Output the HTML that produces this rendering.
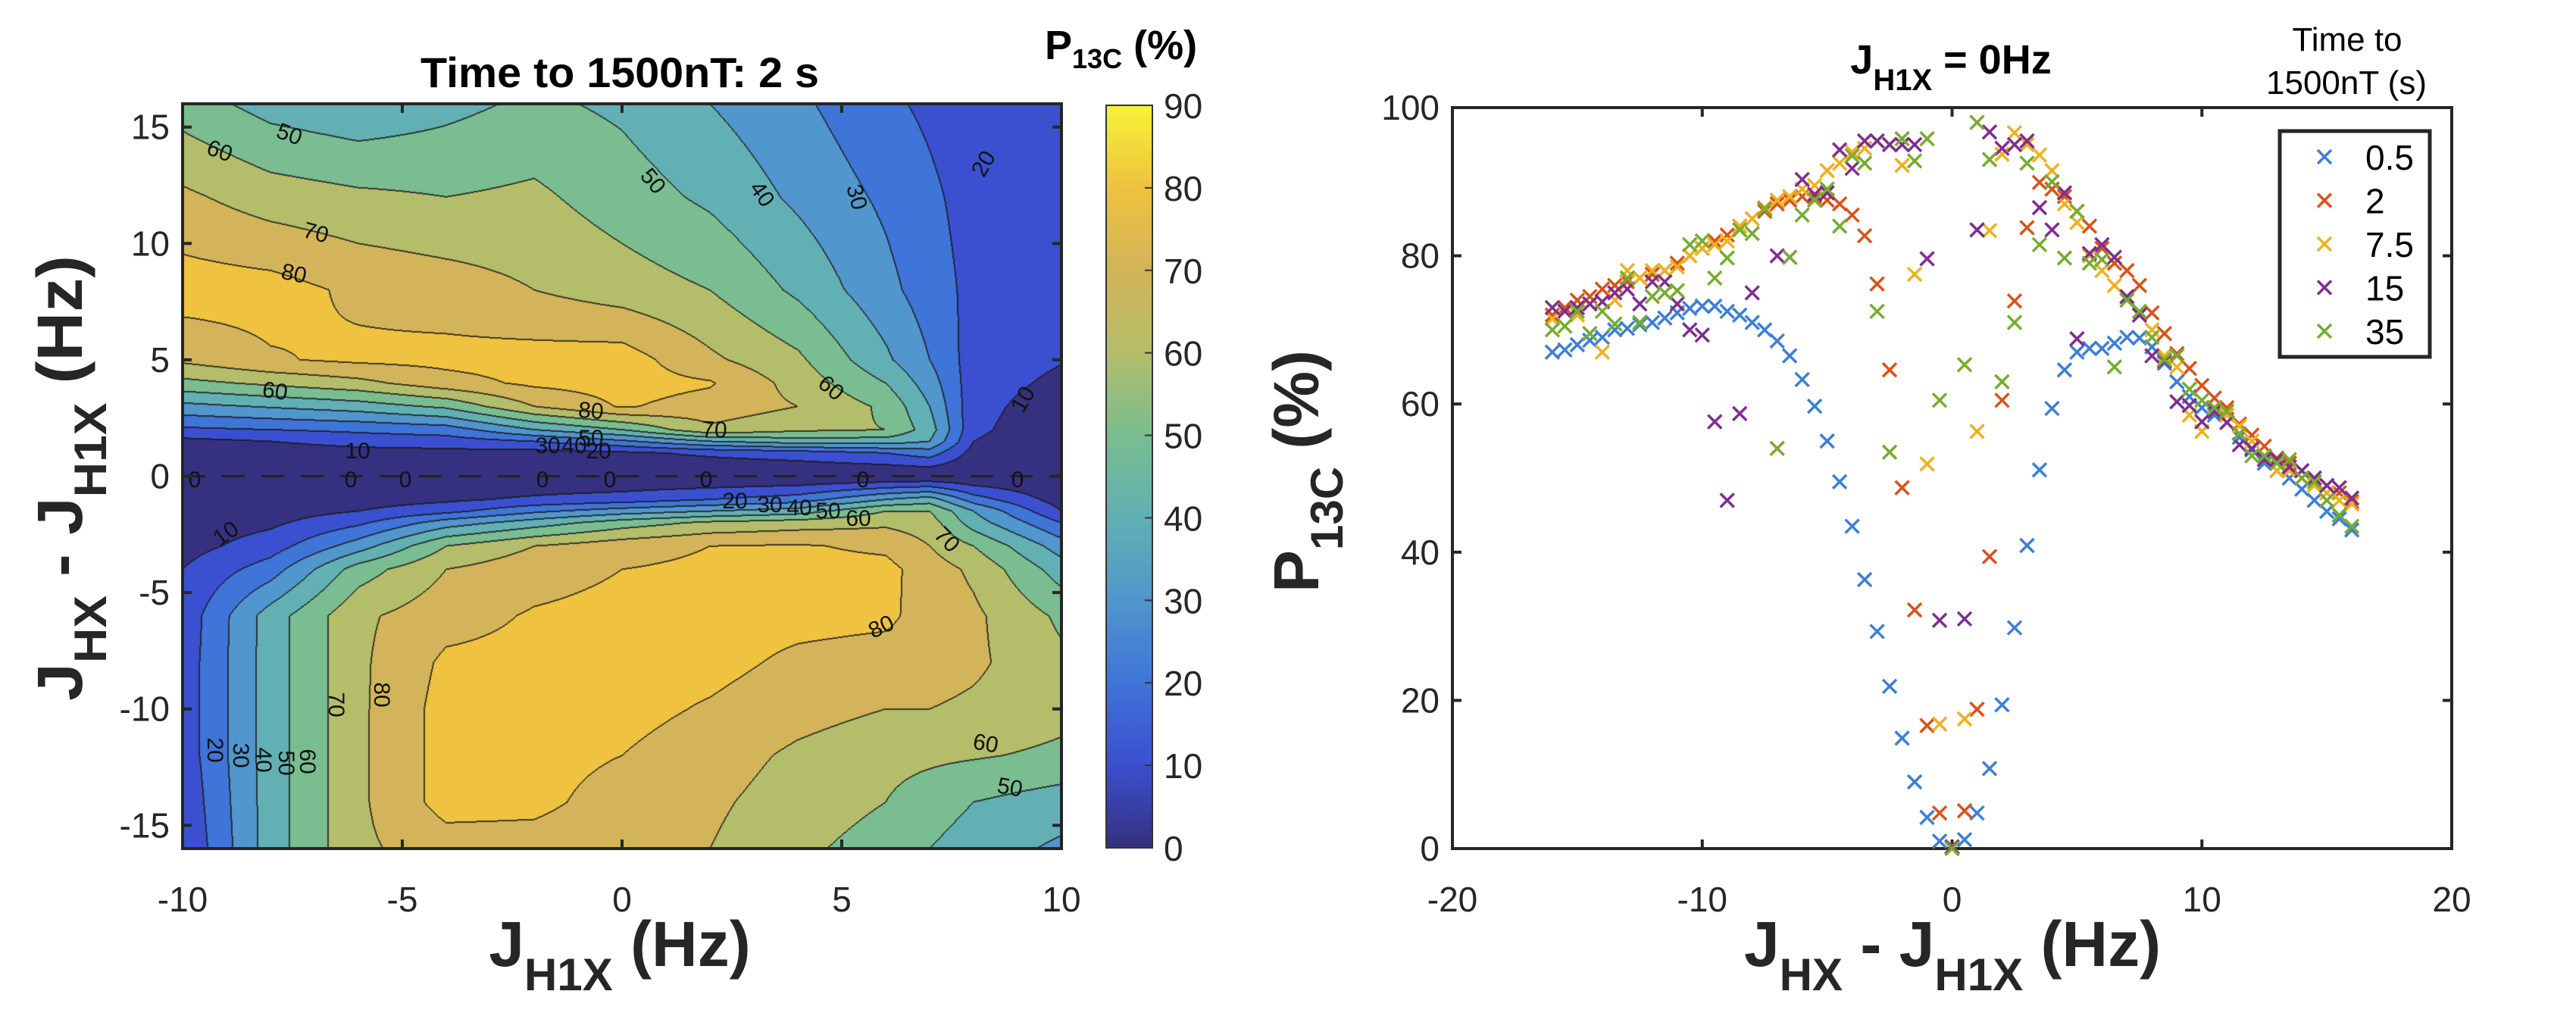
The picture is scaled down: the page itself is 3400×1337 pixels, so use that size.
<!DOCTYPE html>
<html><head><meta charset="utf-8"><style>
html,body{margin:0;padding:0;background:#fff;}
#wrap{position:relative;width:3400px;height:1337px;overflow:hidden;background:#fff;font-family:"Liberation Sans",sans-serif;}
canvas,svg{position:absolute;left:0;top:0;}
</style></head><body>
<div id="wrap">
<canvas id="cf" width="1160" height="983" style="left:241px;top:137px"></canvas>
<canvas id="cb" width="61" height="980" style="left:1460px;top:139px"></canvas>
<svg id="s" width="3400" height="1337"></svg>
</div>
<script>
// ---- Contour data (left panel) ----
const gridX = [-10,-8,-6,-4,-2,0,2,4,6,7,8,10];
const gridY = [16,12,8,5,4,3,2,1.5,1,0,-1,-1.5,-2,-3,-4,-6,-8,-10,-12,-14,-16];
const gridZ = [
[55,46,42,47,52,48,40,32,22,18,14,12],
[72,65,62,60,62,55,48,38,28,22,16,12],
[85,84,78,75,70,65,60,48,33,25,17,12],
[72,79,82,83,84,85,72,62,42,30,15,10.5],
[57,62,67,76,82,84,81,66,50,35,14,8],
[37,41,45,52,70,81,76,70,58,40,13,5],
[18,20,22,25,40,50,68,62,60,45,12,3],
[7,10,14,15,20,28,40,45,45,40,10,2],
[2,4,6,7,6,8,12,15,20,25,6,0],
[0,0,0,0,0,0,0,0,0,0,0,0],
[2,3,5,8,12,15,20,25,40,45,25,5],
[3,5,10,17,28,35,40,45,60,60,40,10],
[4,8,18,35,45,55,62,65,68,65,45,20],
[6,15,35,60,70,76,80,81,78,70,60,35],
[10,25,55,70,76,80,82,83,83,75,68,45],
[13,45,68,76,81,83,84,83,82,76,72,58],
[14,45,68,82,83,84,83,78,76,75,72,62],
[14,45,68,84,84,83,79,74,70,70,68,63],
[14,45,68,84,84,80,75,68,63,62,61,58],
[12,45,68,84,83,75,72,65,60,55,50,45],
[10,45,68,75,75,72,70,62,56,50,45,38]];
const levelColors = ['#35307f','#3b50d0','#3f74d8','#5196cc','#62b0b4','#79bd90','#b4bd6a','#d3b45a','#efc23f','#f7f33a'];
const cbTicks = [0,10,20,30,40,50,60,70,80,90];
const leftXTicks = [-10,-5,0,5,10];
const leftYTicks = [-15,-10,-5,0,5,10,15];

// ---- Scatter data (right panel) ----
const detuning = [-16,-15.5,-15,-14.5,-14,-13.5,-13,-12.5,-12,-11.5,-11,-10.5,-10,-9.5,-9,-8.5,-8,-7.5,-7,-6.5,-6,-5.5,-5,-4.5,-4,-3.5,-3,-2.5,-2,-1.5,-1,-0.5,0,0.5,1,1.5,2,2.5,3,3.5,4,4.5,5,5.5,6,6.5,7,7.5,8,8.5,9,9.5,10,10.5,11,11.5,12,12.5,13,13.5,14,14.5,15,15.5,16];
const s05 = [67,67.3,68,68.6,69,70,70.2,70.7,71,71.6,72.3,72.9,73.2,73.2,72.5,72,71,70,68.5,66.5,63.3,59.7,55,49.5,43.5,36.3,29.3,21.9,14.9,9,4.2,1,0.2,1.2,4.8,10.8,19.4,29.8,40.9,51.1,59.4,64.6,67,67.5,67.5,68.2,69,68.9,67.7,65.5,63,61,59.5,58.5,57.5,55.5,53.8,52,51,50,48.5,47,45.5,44.5,43];
const s2 = [72,73,74,74.5,75.5,76,76.5,77,77.5,78,79,80,81,82,82.8,84,85,86,87,87.5,88,88,87.5,87,85.5,82.7,76.2,64.6,48.7,32.2,16.6,4.8,0.2,5.1,18.8,39.4,60.5,73.9,83.8,89.9,89,88,86,84,81,79,78,76,72.3,69.5,66.8,64.8,62.5,60.8,59.5,57.3,55.8,54.3,52.7,52,51,50,49,48,46.8];
const s75 = [71.5,72.5,72,73.5,67,74,78,77,78,78,78.5,80,81,81.5,82,84,85,86.5,87.5,88,89,89.5,91.5,92.5,94,94.5,95.5,95,92.2,77.5,51.9,16.8,0.3,17.5,56.3,83.4,93.7,96.6,95,93.6,91.5,87,84.5,80,78,76,74.5,72,70,66.5,65,58.5,56.3,59.5,58.5,57,55,53,51,51,50,49,48,47,46.5];
const s15 = [73,72.5,73,73.5,73.8,75,75.5,73.5,76.5,76.5,73.5,70,69.3,57.6,47,58.7,75,86.3,80,79.8,90.3,88.3,88.5,94.3,91.8,95.5,95.5,95,95,95,79.6,30.8,0.2,31,83.5,96.7,94.5,95,95.5,86.5,83.5,88.5,68.8,80.3,81.5,79.8,74.5,72,66.5,65.8,60.3,59.8,57.6,59,57.5,54.5,54,52.5,52.5,51.5,51,50,49,48.7,47.3];
const s35 = [70,70.5,72.5,69.5,72.5,70.8,77,71,74.5,75,75.3,81.5,82,77,79.7,83.5,83,86.3,54,79.8,85.5,87.5,89,84,93.5,92.5,72.5,53.5,95.8,92.8,95.8,60.5,0,65.3,98,93,63,71,92.5,81.5,90,79.7,86,79,79.5,65,74,72.5,69,66,66.5,62,60.5,59.5,59,56,53,53,52,52.5,50,49.5,47,45,43.5];
const seriesNames = ['0.5','2','7.5','15','35'];
const seriesColors = ['#3d7fd6','#d95319','#edb120','#7e2f8e','#77ac30'];
const rightXTicks = [-20,-10,0,10,20];
const rightYTicks = [0,20,40,60,80,100];

// ---- geometry ----
const L = {x0:241,x1:1401,y0:137,y1:1120,xmin:-10,xmax:10,ymin:-16,ymax:16};
const R = {x0:1917,x1:3236,y0:142,y1:1120,xmin:-20,xmax:20,ymin:0,ymax:100};
const lx = v => L.x0 + (v-L.xmin)/(L.xmax-L.xmin)*(L.x1-L.x0);
const ly = v => L.y1 - (v-L.ymin)/(L.ymax-L.ymin)*(L.y1-L.y0);
const rx = v => R.x0 + (v-R.xmin)/(R.xmax-R.xmin)*(R.x1-R.x0);
const ry = v => R.y1 - (v-R.ymin)/(R.ymax-R.ymin)*(R.y1-R.y0);
const cbY = v => 1119 - v/90*980;

function hex(c){return [parseInt(c.substr(1,2),16),parseInt(c.substr(3,2),16),parseInt(c.substr(5,2),16)];}
function zAt(x,y){
  let i=0; while(i<gridX.length-2 && x>gridX[i+1]) i++;
  let j=0; while(j<gridY.length-2 && y<gridY[j+1]) j++;
  const tx=Math.min(1,Math.max(0,(x-gridX[i])/(gridX[i+1]-gridX[i])));
  const ty=Math.min(1,Math.max(0,(y-gridY[j])/(gridY[j+1]-gridY[j])));
  const a=gridZ[j][i],b=gridZ[j][i+1],c=gridZ[j+1][i],d=gridZ[j+1][i+1];
  return (a*(1-tx)+b*tx)*(1-ty)+(c*(1-tx)+d*tx)*ty;
}
(function(){
  const cv=document.getElementById('cf'),ctx=cv.getContext('2d');
  const W=cv.width,H=cv.height,img=ctx.createImageData(W,H);
  const idx=new Int8Array(W*H);
  for(let py=0;py<H;py++){const y=L.ymax-(py+0.5)/H*(L.ymax-L.ymin);
    for(let px=0;px<W;px++){const x=L.xmin+(px+0.5)/W*(L.xmax-L.xmin);
      let k=Math.floor(zAt(x,y)/10); if(k<0)k=0; if(k>8)k=8; idx[py*W+px]=k;}}
  const cols=levelColors.map(hex);
  for(let p=0;p<W*H;p++){
    const px=p%W,py=(p-px)/W,k=idx[p];
    let edge=false;
    if(px>0&&idx[p-1]!==k)edge=true; if(px<W-1&&idx[p+1]!==k)edge=true;
    if(py>0&&idx[p-W]!==k)edge=true; if(py<H-1&&idx[p+W]!==k)edge=true;
    const c=cols[k];
    if(edge){img.data[p*4]=c[0]*0.2+20;img.data[p*4+1]=c[1]*0.2+20;img.data[p*4+2]=c[2]*0.2+20;}
    else{img.data[p*4]=c[0];img.data[p*4+1]=c[1];img.data[p*4+2]=c[2];}
    img.data[p*4+3]=255;}
  ctx.putImageData(img,0,0);
  const cb=document.getElementById('cb'),c2=cb.getContext('2d');
  const g=c2.createLinearGradient(0,cb.height,0,0);
  levelColors.forEach((c,i)=>g.addColorStop(i/9,c));
  c2.fillStyle=g;c2.fillRect(0,0,cb.width,cb.height);
})();

const NS='http://www.w3.org/2000/svg',S=document.getElementById('s');
function el(tag,attrs,parent){const e=document.createElementNS(NS,tag);for(const k in attrs)e.setAttribute(k,attrs[k]);(parent||S).appendChild(e);return e;}
function txt(x,y,s,size,opts,parent){opts=opts||{};const t=el('text',{x:x,y:y,'font-size':size,'font-family':'Liberation Sans, sans-serif',fill:opts.fill||'#262626','text-anchor':opts.anchor||'middle','font-weight':opts.weight||'normal'},parent);if(opts.transform)t.setAttribute('transform',opts.transform);t.textContent=s;return t;}

// ---- Left panel ----
const gL=el('g',{});


const dash=el('line',{x1:L.x0,x2:L.x1,y1:ly(0),y2:ly(0),stroke:'#222','stroke-width':3,'stroke-dasharray':'30 22'},gL);


const cLabels=[['50',382,187,20],['60',290,209,20],['70',417,317,15],['80',388,371,12],['60',363,526,8],['80',780,552,4],['70',943,577,3],['10',472,605,0],['30',723,598,0],['40',758,598,0],['50',780,588,0],['20',790,605,0],['50',862,249,50],['40',1006,266,55],['30',1131,270,75],['20',1298,226,-60],['60',1097,522,40],['10',1350,537,-60],['70',1250,722,45],['10',298,714,-35],['80',1163,837,-25],['70',444,940,90],['80',504,927,90],['20',284,1000,90],['30',318,1007,90],['40',348,1013,90],['50',378,1017,90],['60',406,1015,90],['60',1301,991,10],['50',1333,1049,10],['20',970,671,0],['30',1016,676,0],['40',1055,680,0],['50',1093,684,0],['60',1133,694,0]];
cLabels.forEach(l=>{const t=txt(l[1],l[2],l[0],30,{fill:'#111',transform:'rotate('+l[3]+' '+l[1]+' '+(l[2]-10)+')'},gL);
  
  });
[257,463,535,716,805,932,1139,1343].forEach(x=>{const t=txt(x,643,'0',30,{fill:'#111'},gL);
  
  });
el('rect',{x:L.x0,y:L.y0,width:L.x1-L.x0,height:L.y1-L.y0,fill:'none',stroke:'#262626','stroke-width':4},gL);
leftXTicks.forEach(v=>{
  el('line',{x1:lx(v),x2:lx(v),y1:L.y1,y2:L.y1-12,stroke:'#262626','stroke-width':4},gL);
  el('line',{x1:lx(v),x2:lx(v),y1:L.y0,y2:L.y0+12,stroke:'#262626','stroke-width':4},gL);
  const t=txt(lx(v),1203,String(v),46,{},gL);
  
  });
leftYTicks.forEach(v=>{
  el('line',{x1:L.x0,x2:L.x0+12,y1:ly(v),y2:ly(v),stroke:'#262626','stroke-width':4},gL);
  el('line',{x1:L.x1,x2:L.x1-12,y1:ly(v),y2:ly(v),stroke:'#262626','stroke-width':4},gL);
  const t=txt(224,ly(v)+16,String(v),46,{anchor:'end'},gL);
  
  });
el('rect',{x:1460,y:139,width:61,height:980,fill:'none',stroke:'#333','stroke-width':2},gL);
cbTicks.forEach(v=>{
  if(v>0&&v<90){el('line',{x1:1521,x2:1511,y1:cbY(v),y2:cbY(v),stroke:'#333','stroke-width':2},gL);}
  const t=txt(1536,cbY(v)+17,String(v),46,{anchor:'start'},gL);
  
  });
</script>
<script>
(function(){
  const t1=txt(818,115,'Time to 1500nT: 2 s',56,{weight:'bold',fill:'#000'});
  t1.setAttribute('textLength','526');t1.setAttribute('lengthAdjust','spacingAndGlyphs');
  
  
  const cbt=el('text',{x:1379,y:78,'font-size':54,'font-weight':'bold','font-family':'Liberation Sans, sans-serif',fill:'#000'});
  cbt.innerHTML='P<tspan font-size="36" dy="12">13C</tspan><tspan dy="-12"> (%)</tspan>';
  
  
  const xl=el('text',{x:818,y:1275,'font-size':84,'font-weight':'bold','font-family':'Liberation Sans, sans-serif',fill:'#262626','text-anchor':'middle'});
  xl.innerHTML='J<tspan font-size="60" dy="32">H1X</tspan><tspan dy="-32"> (Hz)</tspan>';
  
  
  const yl=el('text',{x:0,y:0,'font-size':84,'font-weight':'bold','font-family':'Liberation Sans, sans-serif',fill:'#262626','text-anchor':'middle',transform:'translate(108 631) rotate(-90)'});
  yl.setAttribute('textLength','588');yl.setAttribute('lengthAdjust','spacingAndGlyphs');
  yl.innerHTML='J<tspan font-size="60" dy="32">HX</tspan><tspan dy="-32"> - J</tspan><tspan font-size="60" dy="32">H1X</tspan><tspan dy="-32"> (Hz)</tspan>';
  
  
})();

// ---- Right panel ----
const gR=el('g',{});


el('rect',{x:R.x0,y:R.y0,width:R.x1-R.x0,height:R.y1-R.y0,fill:'none',stroke:'#262626','stroke-width':4},gR);
rightXTicks.forEach(v=>{
  el('line',{x1:rx(v),x2:rx(v),y1:R.y1,y2:R.y1-12,stroke:'#262626','stroke-width':4},gR);
  el('line',{x1:rx(v),x2:rx(v),y1:R.y0,y2:R.y0+12,stroke:'#262626','stroke-width':4},gR);
  const t=txt(rx(v),1203,String(v),46,{},gR);
  
  });
rightYTicks.forEach(v=>{
  el('line',{x1:R.x0,x2:R.x0+12,y1:ry(v),y2:ry(v),stroke:'#262626','stroke-width':4},gR);
  el('line',{x1:R.x1,x2:R.x1-12,y1:ry(v),y2:ry(v),stroke:'#262626','stroke-width':4},gR);
  const t=txt(1900,ry(v)+16,String(v),46,{anchor:'end'},gR);
  
  });
function xMark(cx,cy,col,parent){const h=9;return el('path',{d:'M'+(cx-h)+' '+(cy-h)+'L'+(cx+h)+' '+(cy+h)+'M'+(cx-h)+' '+(cy+h)+'L'+(cx+h)+' '+(cy-h),stroke:col,'stroke-width':3.5,fill:'none'},parent);}
[s05,s2,s75,s15,s35].forEach((arr,si)=>{
  const g=el('g',{},gR);
  
  
  arr.forEach((v,i)=>{const m=xMark(rx(detuning[i]),ry(v),seriesColors[si],g);
    
    });
});
const lg=el('g',{});


el('rect',{x:3009,y:173,width:198,height:298,fill:'#fff',stroke:'#262626','stroke-width':5},lg);
seriesNames.forEach((n,i)=>{
  const yy=207+i*57.5;
  const e=el('g',{},lg);
  
  
  xMark(3068,yy,seriesColors[i],e);
  txt(3122,yy+17,n,46,{anchor:'start',fill:'#000'},e);
});
(function(){
  const a=txt(3098,67,'Time to',44,{fill:'#000'});
  
  
  const b=txt(3097,124,'1500nT (s)',44,{fill:'#000'});
  
  
  const t=el('text',{x:2575,y:97,'font-size':54,'font-weight':'bold','font-family':'Liberation Sans, sans-serif',fill:'#000','text-anchor':'middle'});
  t.innerHTML='J<tspan font-size="40" dy="22">H1X</tspan><tspan dy="-22"> = 0Hz</tspan>';
  
  
  const xl=el('text',{x:2577,y:1275,'font-size':84,'font-weight':'bold','font-family':'Liberation Sans, sans-serif',fill:'#262626','text-anchor':'middle'});
  xl.innerHTML='J<tspan font-size="60" dy="32">HX</tspan><tspan dy="-32"> - J</tspan><tspan font-size="60" dy="32">H1X</tspan><tspan dy="-32"> (Hz)</tspan>';
  
  
  const yl=el('text',{x:0,y:0,'font-size':84,'font-weight':'bold','font-family':'Liberation Sans, sans-serif',fill:'#262626','text-anchor':'middle',transform:'translate(1740 622) rotate(-90)'});
  yl.innerHTML='P<tspan font-size="60" dy="32">13C</tspan><tspan dy="-32"> (%)</tspan>';
  
  
})();
</script>
</body></html>
